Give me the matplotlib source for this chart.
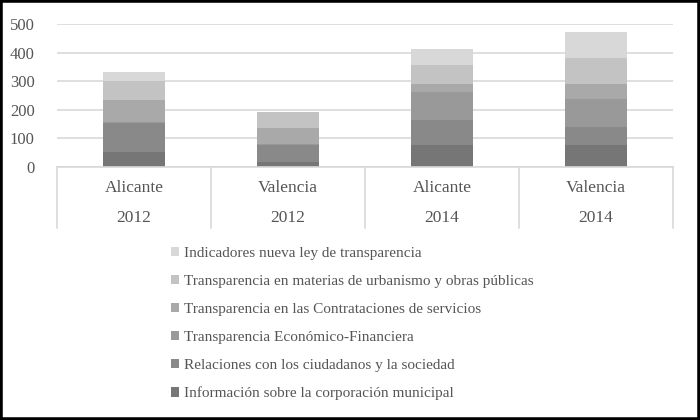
import matplotlib.pyplot as plt
import numpy as np
from matplotlib.patches import Rectangle

plt.rcParams['font.family'] = ['Liberation Serif', 'DejaVu Serif']

# categories: city / year
cities = ['Alicante', 'Valencia', 'Alicante', 'Valencia']
years = ['2012', '2012', '2014', '2014']

# series, bottom to top
series = ['Información sobre la corporación municipal',
          'Relaciones con los ciudadanos y la sociedad',
          'Transparencia Económico-Financiera',
          'Transparencia en las Contrataciones de servicios',
          'Transparencia en materias de urbanismo y obras públicas',
          'Indicadores nueva ley de transparencia']
informacion = [54, 16, 77, 77]
relaciones = [99, 62, 87, 62]
economico = [3, 1, 99, 99]
contrataciones = [78, 57, 26, 51]
urbanismo = [67, 55, 68, 91]
indicadores = [30, 0, 55, 91]
values = [informacion, relaciones, economico, contrataciones, urbanismo, indicadores]
colors = ['#767676', '#898989', '#999999', '#a9a9a9', '#c3c3c3', '#d8d8d8']

yticks = [0, 100, 200, 300, 400, 500]
txt = '#555555'

fig = plt.figure(figsize=(7, 4.2), dpi=100)
ax = fig.add_axes([57/700, (420-167)/420, 616/700, 143/420])

x = np.arange(len(cities))
bottom = np.zeros(len(cities))
bars = []
for vals, col, name in zip(values, colors, series):
    b = ax.bar(x, vals, width=0.4, bottom=bottom, color=col, label=name, zorder=3)
    bars.append(b)
    bottom += np.array(vals)

ax.set_xlim(-0.5, len(cities) - 0.5)
ax.set_ylim(0, 500)
ax.set_yticks(yticks)
ax.yaxis.grid(True, color='#d9d9d9', linewidth=1.2, zorder=0)
for s in ax.spines.values():
    s.set_visible(False)
ax.tick_params(axis='y', length=0, labelsize=12, labelcolor=txt, pad=16)
ax.set_xticks([])

# category table below axis
tr = ax.get_xaxis_transform()
ax.plot([-0.5, len(cities) - 0.5], [0, 0], color='#d9d9d9', lw=1.2, transform=tr, clip_on=False, zorder=4)
for b in np.arange(len(cities) + 1) - 0.5:
    ax.plot([b, b], [0, -0.43], color='#d9d9d9', lw=1.2, transform=tr, clip_on=False)
for i in range(len(cities)):
    ax.text(i, -0.145, cities[i], transform=tr, ha='center', va='center', fontsize=12.5, color=txt)
    ax.text(i, -0.355, years[i], transform=tr, ha='center', va='center', fontsize=12.5, color=txt)

handles = bars[::-1]
labels = series[::-1]
leg = fig.legend(handles, labels, loc='upper left', bbox_to_anchor=(163/700, 1 - 239/420),
                 frameon=False, fontsize=11, labelcolor=txt, labelspacing=0.98,
                 handlelength=0.55, handleheight=0.55, handletextpad=0.3, borderpad=0)

fig.patches.append(Rectangle((0, 0), 1, 1, transform=fig.transFigure, fill=False,
                             edgecolor='black', linewidth=4))

fig.savefig('out.png', dpi=100)
